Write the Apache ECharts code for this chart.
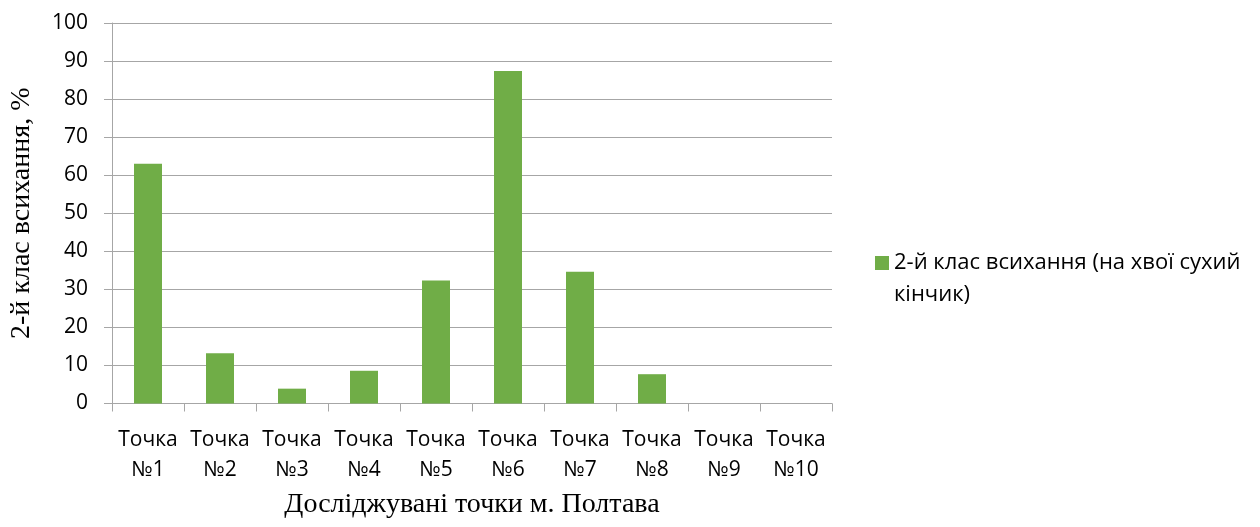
<!DOCTYPE html>
<html>
<head>
<meta charset="utf-8">
<script src="https://cdn.jsdelivr.net/npm/echarts@6/dist/echarts.min.js"></script>
<style>
html,body{margin:0;padding:0;background:#fff;}
#chart{width:1260px;height:527px;}
</style>
</head>
<body>
<div id="chart"></div>
<script>
const categories = ['Точка\n№1','Точка\n№2','Точка\n№3','Точка\n№4','Точка\n№5','Точка\n№6','Точка\n№7','Точка\n№8','Точка\n№9','Точка\n№10'];
const seriesName = '2-й клас всихання (на хвої сухий кінчик)';
const legendLines = ['2-й клас всихання (на хвої сухий', 'кінчик)'];
const values = [63.0, 13.2, 3.9, 8.6, 32.3, 87.4, 34.6, 7.7, 0, 0];
const yTitle = '2-й клас всихання, %';
const xTitle = 'Досліджувані точки м. Полтава';

const chart = echarts.init(document.getElementById('chart'), null, {renderer:'canvas'});
const labelFont = '"Open Sans", "Noto Sans", sans-serif';
const serifFont = '"Liberation Serif", "DejaVu Serif", serif';
chart.setOption({
  animation: false,
  backgroundColor: '#ffffff',
  grid: {left: 112, right: 428, top: 23, bottom: 123.5, containLabel: false, outerBoundsMode: 'none'},
  legend: {
    show: true,
    left: 875, top: 215,
    padding: 0,
    orient: 'vertical',
    icon: 'rect',
    itemWidth: 14, itemHeight: 14,
    formatter: function(){ return '\n' + legendLines.join('\n'); },
    textStyle: {fontFamily: labelFont, fontSize: 22, color: '#000', lineHeight: 32}
  },
  xAxis: {
    type: 'category',
    data: categories,
    boundaryGap: true,
    name: xTitle,
    nameLocation: 'middle',
    nameGap: 82,
    nameTextStyle: {fontFamily: serifFont, fontSize: 28, color: '#000'},
    axisLine: {show: true, lineStyle: {color: '#a6a6a6', width: 1}},
    axisTick: {show: true, inside: false, length: 8, alignWithLabel: false, lineStyle: {color: '#a6a6a6'}},
    axisLabel: {interval: 0, margin: 22, fontFamily: labelFont, fontSize: 21, color: '#000', lineHeight: 30, align: 'center'},
    splitLine: {show: false}
  },
  yAxis: {
    type: 'value',
    min: 0, max: 100, interval: 10,
    name: yTitle,
    nameLocation: 'middle',
    nameGap: 76,
    nameRotate: 90,
    nameTextStyle: {fontFamily: serifFont, fontSize: 28, color: '#000'},
    axisLine: {show: true, lineStyle: {color: '#a6a6a6', width: 1}},
    axisTick: {show: true, inside: false, length: 8, lineStyle: {color: '#a6a6a6'}},
    axisLabel: {margin: 24, fontFamily: labelFont, fontSize: 21, color: '#000'},
    splitLine: {show: true, lineStyle: {color: '#a6a6a6', width: 1}}
  },
  series: [{
    name: seriesName,
    type: 'bar',
    data: values,
    barWidth: 28,
    itemStyle: {color: '#70ad47'}
  }]
});
</script>
</body>
</html>
